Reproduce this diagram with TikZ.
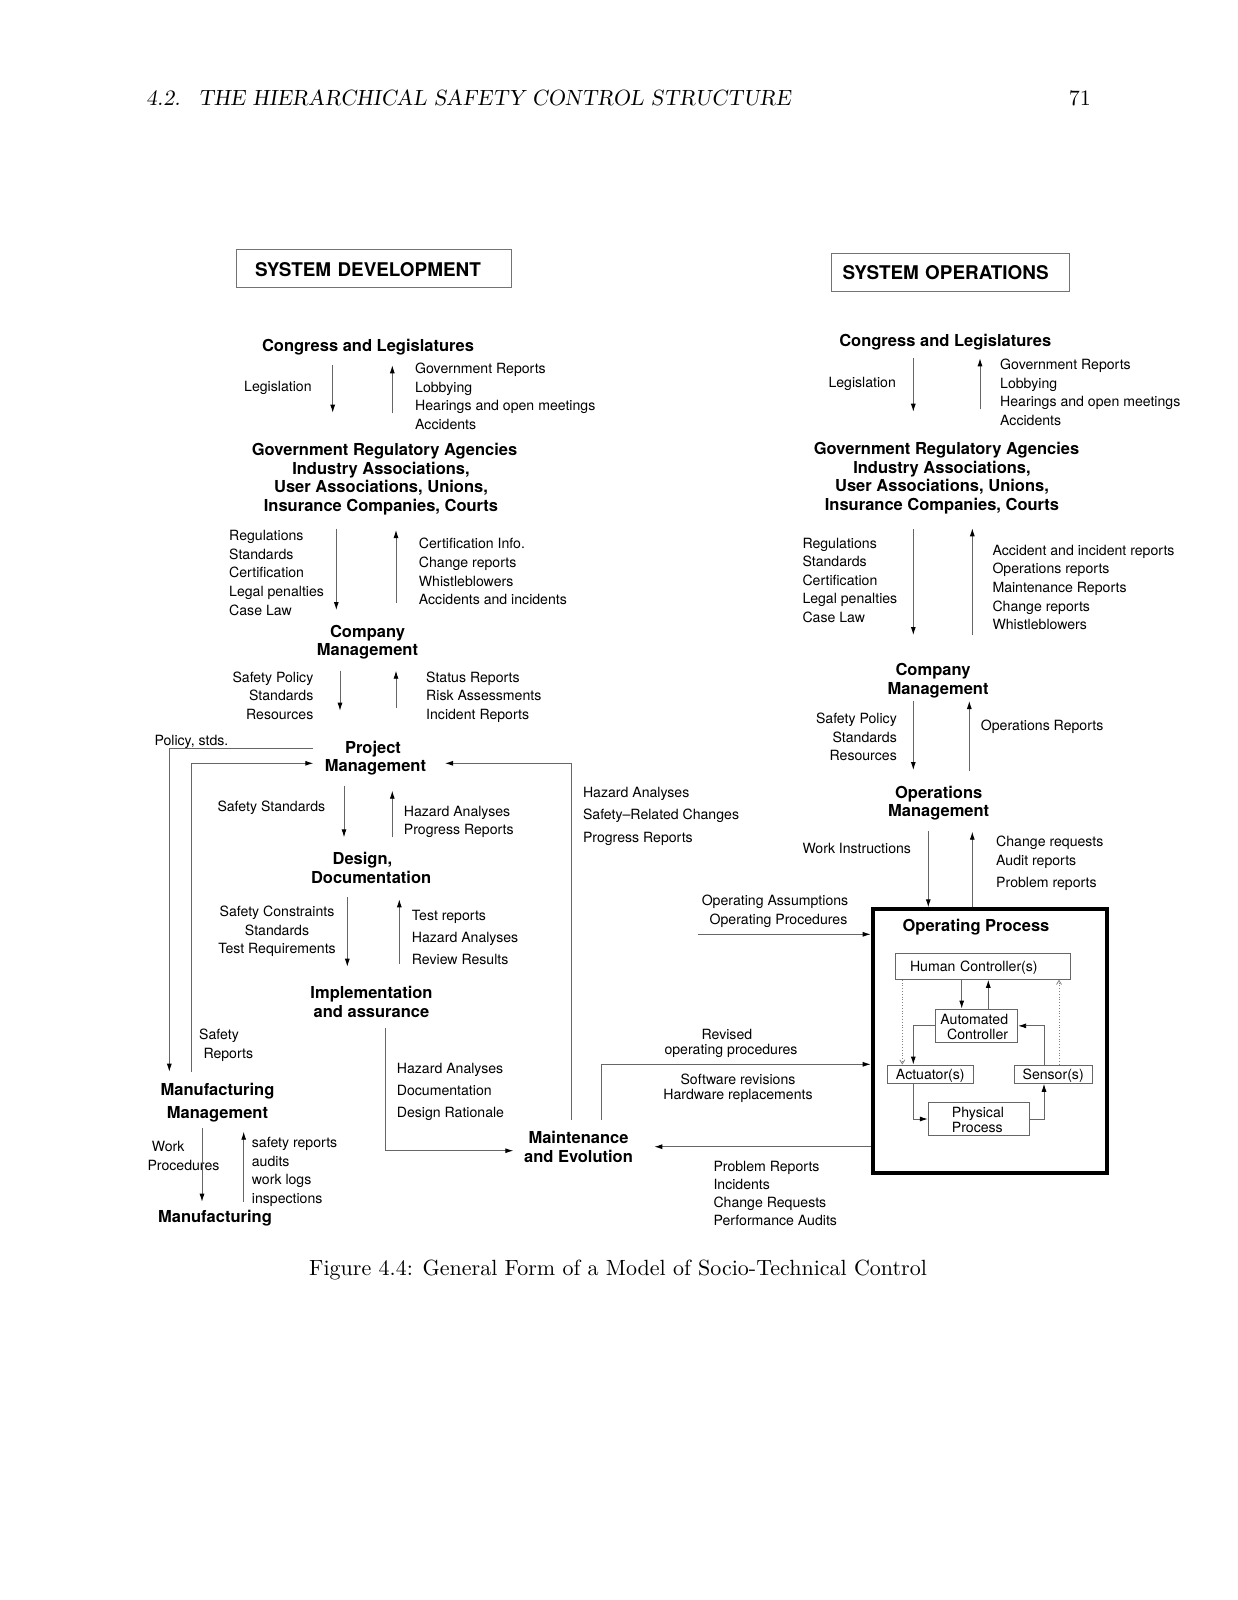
\documentclass[tikz,border=0pt]{standalone}
\usepackage{fontspec}
\newfontfamily\helv{TeX Gyre Heros}
\newfontfamily\cmten{lmroman10-regular.otf}
\newfontfamily\cmsl{lmromanslant10-regular.otf}
\usetikzlibrary{arrows.meta,calc}
\tikzset{
  lb/.style={font=\helv\fontsize{14.1}{18.6}\selectfont, inner sep=0pt, align=left},
  hd/.style={font=\helv\bfseries\fontsize{16.5}{18.5}\selectfont, inner sep=0pt, align=center},
  ln/.style={draw=black!60, line width=0.9pt},
  arr/.style={ln, -{Latex[length=8pt,width=5pt,color=black]}},
  bx/.style={draw=black!60, line width=0.9pt, inner sep=0pt, font=\helv\fontsize{14.1}{14.8}\selectfont, align=center},
  bxt/.style={inner sep=0pt, font=\helv\fontsize{14.1}{14.8}\selectfont},
  ttl/.style={draw=black!55, line width=0.9pt, font=\helv\bfseries\fontsize{18.9}{20}\selectfont, align=left, inner ysep=0pt, minimum height=38pt},
  dotarr/.style={draw=black!50, line width=0.8pt, dotted, -{Straight Barb[length=4pt,width=5pt]}},
  serif/.style={inner sep=0pt, font=\cmten\fontsize{22.0}{26}\selectfont},
}
\begin{document}
\begin{tikzpicture}[x=1pt,y=-1pt]
\useasboundingbox (0,0) rectangle (1237,1600);
\fill[white] (0,0) rectangle (1237,1600);

% page header and caption
\node[serif, anchor=base west, font=\cmsl\fontsize{22.0}{26}\selectfont] (hdr) at (146,106) {4.2.\hspace{0.8em}THE HIERARCHICAL SAFETY CONTROL STRUCTURE};
\node[serif, anchor=base east] (pg) at (1091,106) {71};
\node[serif, anchor=base west] (cap) at (309,1275) {Figure 4.4: General Form of a Model of Socio-Technical Control};

% ---------------- SYSTEM DEVELOPMENT ----------------
\node[ttl, inner xsep=19pt, text width=237pt, text height=17.4pt, text depth=0pt] (devt) at (373.5,268) {SYSTEM DEVELOPMENT};
\node[hd, anchor=base] (cl) at (368,351) {Congress and Legislatures};
\node[lb, anchor=base west] (leg) at (244,391.7) {Legislation};
\node[lb, anchor=north west] (gr1) at (415,362.9) {Government Reports\\Lobbying\\Hearings and open meetings\\Accidents};
\node[hd, anchor=north] (gra) at (381,443.1) {\hspace*{7.2pt}Government Regulatory Agencies\\Industry Associations,\\User Associations, Unions,\\Insurance Companies, Courts};
\node[lb, anchor=north west] (reg1) at (229,530.2) {Regulations\\Standards\\Certification\\Legal penalties\\Case Law};
\node[lb, anchor=north west] (cert1) at (418.7,538.2) {Certification Info.\\Change reports\\Whistleblowers\\Accidents and incidents};
\node[hd, anchor=north] (cm) at (367.5,625) {Company\\Management};
\node[lb, anchor=north east, align=right] (sp1) at (313.5,671.6) {Safety Policy\\Standards\\Resources};
\node[lb, anchor=north west] (st1) at (426,671.6) {Status Reports\\Risk Assessments\\Incident Reports};
\node[lb, anchor=base west] (pol) at (154.3,745) {Policy, stds.};
\node[hd, anchor=north] (pm) at (375.5,740.8) {Project\hspace*{5pt}\\Management};
\node[lb, anchor=base west] (ss) at (217.3,811.7) {Safety Standards};
\node[lb, anchor=north west] (ha1) at (403.7,805.6) {Hazard Analyses\\Progress Reports};
\node[hd, anchor=north] (dd) at (367,852.4) {Design,\hspace*{9.2pt}\\\hspace*{8.2pt}Documentation};
\node[lb, anchor=north, align=center] (sc) at (277,905.9) {Safety Constraints\\Standards\\Test Requirements};
\node[lb, anchor=north west, font=\helv\fontsize{14.1}{22.2}\selectfont] (tr) at (411.7,909.9) {Test reports\\Hazard Analyses\\Review Results};
\node[hd, anchor=north] (impl) at (371.5,986.4) {Implementation\\and assurance};
\node[lb, anchor=north west] (sr) at (199,1028.9) {Safety\\\hspace*{4.3pt}Reports};
\node[hd, anchor=north, font=\helv\bfseries\fontsize{16.5}{22.4}\selectfont] (mm) at (217.5,1083.4) {Manufacturing\\Management};
\node[lb, anchor=north west, font=\helv\fontsize{14.1}{19}\selectfont] (wp) at (147.3,1140.9) {\hspace*{4.4pt}Work\\Procedures};
\node[lb, anchor=north west] (sal) at (251.7,1137.2) {safety reports\\audits\\work logs\\inspections};
\node[hd, anchor=base] (mfg) at (215,1222) {Manufacturing};
\node[lb, anchor=north west, font=\helv\fontsize{14.1}{22.3}\selectfont] (hdd) at (396.7,1062.6) {Hazard Analyses\\Documentation\\Design Rationale};
\node[hd, anchor=north] (maint) at (578.5,1131.4) {Maintenance\\and Evolution};
\node[lb, anchor=north west, font=\helv\fontsize{14.1}{22.4}\selectfont] (hsp) at (582.8,786.9) {Hazard Analyses\\Safety\textendash Related Changes\\Progress Reports};
\node[lb, anchor=north, align=center, font=\helv\fontsize{14.1}{15.3}\selectfont] (rev) at (731,1028.9) {Revised\hspace*{8.2pt}\\operating procedures};
\node[lb, anchor=north, align=center, font=\helv\fontsize{14.1}{15.2}\selectfont] (swr) at (738,1073.9) {Software revisions\\Hardware replacements};
\node[lb, anchor=north west, font=\helv\fontsize{14.1}{18}\selectfont] (prl) at (713.3,1160.9) {Problem Reports\\Incidents\\Change Requests\\Performance Audits};
\node[lb, anchor=north, align=center, font=\helv\fontsize{14.1}{18.4}\selectfont] (oap) at (775,894.9) {Operating Assumptions\\\hspace*{7pt}Operating Procedures};

% ---------------- SYSTEM OPERATIONS ----------------
\node[ttl, inner xsep=11pt, text width=216pt, text height=15.6pt, text depth=0pt] (opst) at (950.7,272) {SYSTEM OPERATIONS};
\node[hd, anchor=base] (cr) at (945.3,346.7) {Congress and Legislatures};
\node[lb, anchor=base west] (leg2) at (828.3,387.7) {Legislation};
\node[lb, anchor=north west] (gr2) at (1000,358.9) {Government Reports\\Lobbying\\Hearings and open meetings\\Accidents};
\node[hd, anchor=north] (gra2) at (942,442.4) {\hspace*{9.2pt}Government Regulatory Agencies\\Industry Associations,\hspace*{7.2pt}\\User Associations, Unions,\\Insurance Companies, Courts};
\node[lb, anchor=north west] (reg2) at (802.3,537.6) {Regulations\\Standards\\Certification\\Legal penalties\\Case Law};
\node[lb, anchor=north west] (acc2) at (992.3,544.9) {Accident and incident reports\\Operations reports\\Maintenance Reports\\Change reports\\Whistleblowers};
\node[hd, anchor=north] (cm2) at (938,663.4) {Company\hspace*{10pt}\\Management};
\node[lb, anchor=north east, align=right, font=\helv\fontsize{14.1}{18.4}\selectfont] (sp2) at (897,713.2) {Safety Policy\\Standards\\Resources};
\node[lb, anchor=base west] (opr) at (980.7,730.3) {Operations Reports};
\node[hd, anchor=north] (om) at (938.7,785.8) {Operations\\Management};
\node[lb, anchor=base west] (wi) at (802.3,853.3) {Work Instructions};
\node[lb, anchor=north west] (chr) at (996,835.9) {Change requests\\Audit reports\\[3.8pt]Problem reports};

% operating process box
\node[draw=black, line width=4pt, minimum width=234.6pt, minimum height=263.7pt, inner sep=0pt] (opbox) at (990,1041.15) {};
\node[hd, anchor=base] (optl) at (976,931) {Operating Process};
\node[bx, minimum width=175pt, minimum height=26pt, text width=145pt, inner xsep=15pt, align=left, text height=10.1pt, text depth=0pt] (hc) at (982.5,966.3) {Human Controller(s)};
\node[bx, minimum width=82pt, minimum height=33.7pt] (ac) at (976.7,1025.85) {};
\node[bxt, anchor=north east, align=right, font=\helv\fontsize{14.1}{14.7}\selectfont] (acT) at (1008.3,1014.2) {Automated\\Controller};
\node[bx, minimum width=86pt, minimum height=18.3pt, text height=10.1pt, text depth=0pt] (act) at (930.3,1074.15) {Actuator(s)};
\node[bx, minimum width=78.3pt, minimum height=18.3pt, text height=10.1pt, text depth=0pt] (sen) at (1053.15,1074.15) {Sensor(s)};
\node[bx, minimum width=100.7pt, minimum height=33.4pt] (pp) at (978.65,1119) {};
\node[bxt, anchor=north west, align=left, font=\helv\fontsize{14.1}{15}\selectfont] (ppT) at (951.7,1107.2) {Physical\\Process};

% ---------------- vertical control/feedback arrows ----------------
\foreach \n/\x/\ya/\yb in {
  la/332.7/365.3/412.7, lb/392.3/413.3/365.3,
  lc/336.3/528.7/610, ld/396/602.7/530,
  le/340/670.7/710.7, lf/396/707.7/670.7,
  lg/344/785.7/837.3, lh/392.3/837.3/790.7,
  li/347.3/897.3/966.7, lj/399.3/964/899.3,
  lk/202/1128.3/1201.7, ll/243.7/1201.7/1131.7,
  ra/913.3/358.3/411.7, rb/980/409.3/358.3,
  rc/913.3/529.3/635, rd/972.3/635/528.3,
  re/913.3/701/770, rf/969.3/770.7/701}
{
  \coordinate (\n s) at (\x,\ya);
  \coordinate (\n e) at (\x,\yb);
  \draw[arr] (\n s) -- (\n e);
}

% ---------------- loops on the left ----------------
\coordinate (polS) at (313.3,748.3);
\coordinate (polE) at (169.3,1071.7);
\draw[arr] (polS) -| (polE);
\coordinate (srS) at (191,1071.7);
\coordinate (srE) at (313.3,763.3);
\draw[arr] (srS) |- (srE);
\coordinate (mlS) at (571,1120);
\coordinate (mlE) at (445,763.3);
\draw[arr] (mlS) |- (mlE);
\coordinate (imS) at (385,1027.7);
\coordinate (imE) at (513.3,1150.7);
\draw[arr] (imS) |- (imE);

% ---------------- maintenance <-> operating process ----------------
\coordinate (mtS) at (601,1120);
\coordinate (mtY) at (601,1064.3);
\draw[arr] (mtS) -- (mtY) -- (mtY -| opbox.west);
\coordinate (prE) at (654.3,1146.7);
\draw[arr] (prE -| opbox.west) -- (prE);
\coordinate (oaS) at (697.7,934.3);
\draw[arr] (oaS) -- (oaS -| opbox.west);

% operations management <-> operating process
\coordinate (wiS) at (928.3,831);
\draw[arr] (wiS) -- (wiS |- opbox.north);
\coordinate (crE) at (972.3,831.7);
\draw[arr] (crE |- opbox.north) -- (crE);

% ---------------- inside the operating process ----------------
\coordinate (h1) at ([xshift=-20.8pt]hc.south);
\draw[arr] (h1) -- (h1 |- ac.north);
\coordinate (h2) at ([xshift=5.8pt]hc.south);
\draw[arr] (h2 |- ac.north) -- (h2);
\coordinate (aa) at ([xshift=-17pt]act.north);
\draw[arr] (ac.west) -| (aa);
\coordinate (sa) at ([xshift=-9.15pt]sen.north);
\draw[arr] (sa) |- (ac.east);
\coordinate (ab) at ([xshift=-17pt]act.south);
\draw[arr] (ab) |- (pp.west);
\coordinate (sb) at ([xshift=-9.15pt]sen.south);
\draw[arr] (pp.east) -| (sb);
\coordinate (dt1) at ([xshift=-80.2pt]hc.south);
\draw[dotarr] (dt1) -- (dt1 |- act.north);
\coordinate (dt2) at ([xshift=5.85pt]sen.north);
\draw[dotarr] (dt2) -- (dt2 |- hc.south);
\end{tikzpicture}
\end{document}
